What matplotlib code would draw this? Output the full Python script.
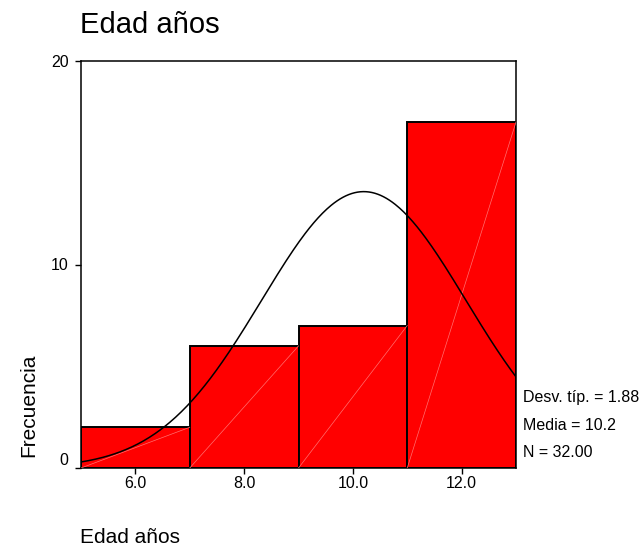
import numpy as np
import matplotlib.pyplot as plt

plt.rcParams["font.family"] = ["Liberation Sans", "DejaVu Sans"]

# histogram data
bin_edges = [5, 7, 9, 11, 13]
counts = [2, 6, 7, 17]
xticks = [6, 8, 10, 12]
xtick_labels = ["6.0", "8.0", "10.0", "12.0"]
yticks = [0, 10, 20]
sd = 1.88
mean = 10.2
n = 32

fig = plt.figure(figsize=(6.4, 5.46), dpi=100)
ax = fig.add_axes([81 / 640, 1 - 468 / 546, (516 - 81) / 640, (468 - 61) / 546])

lefts = np.array(bin_edges[:-1])
widths = np.diff(bin_edges)
ax.bar(lefts, counts, width=widths, align="edge", color="#ff0000",
       edgecolor="black", linewidth=1.4, zorder=2)
# faint diagonal artefacts inside each bar
for l, w, c in zip(lefts, widths, counts):
    ax.plot([l, l + w], [0, c], color="#ff7070", lw=0.5, zorder=3)

# normal curve from the reported stats
xs = np.linspace(bin_edges[0], bin_edges[-1], 300)
bw = widths[0]
ys = n * bw * np.exp(-0.5 * ((xs - mean) / sd) ** 2) / (sd * np.sqrt(2 * np.pi))
ax.plot(xs, ys, color="black", lw=1.1, zorder=4)

ax.set_xlim(bin_edges[0], bin_edges[-1])
ax.set_ylim(0, 20)
ax.set_xticks(xticks)
ax.set_xticklabels(xtick_labels)
ax.set_yticks(yticks)
ax.tick_params(direction="out", length=4, width=1, labelsize=11.5)
ax.tick_params(axis="x", pad=1.5)
ax.tick_params(axis="y", pad=5)
for s in ax.spines.values():
    s.set_linewidth(1.1)
ylabs = ax.get_yticklabels()
ylabs[0].set_verticalalignment("bottom")

fig.text(80 / 640, 1 - 33 / 546, "Edad años", fontsize=21, va="baseline", ha="left")
fig.text(80 / 640, 1 - 543 / 546, "Edad años", fontsize=15, va="baseline", ha="left")
fig.text(29 / 640, 1 - 405 / 546, "Frecuencia", fontsize=15, rotation=90,
         va="center", ha="center")
stats = ["Desv. típ. = 1.88", "Media = 10.2", "N = 32.00"]
for i, t in enumerate(stats):
    fig.text(523 / 640, 1 - (397.5 + 27.5 * i) / 546, t, fontsize=11.5,
             va="center", ha="left")

fig.savefig("out.png", dpi=100)
